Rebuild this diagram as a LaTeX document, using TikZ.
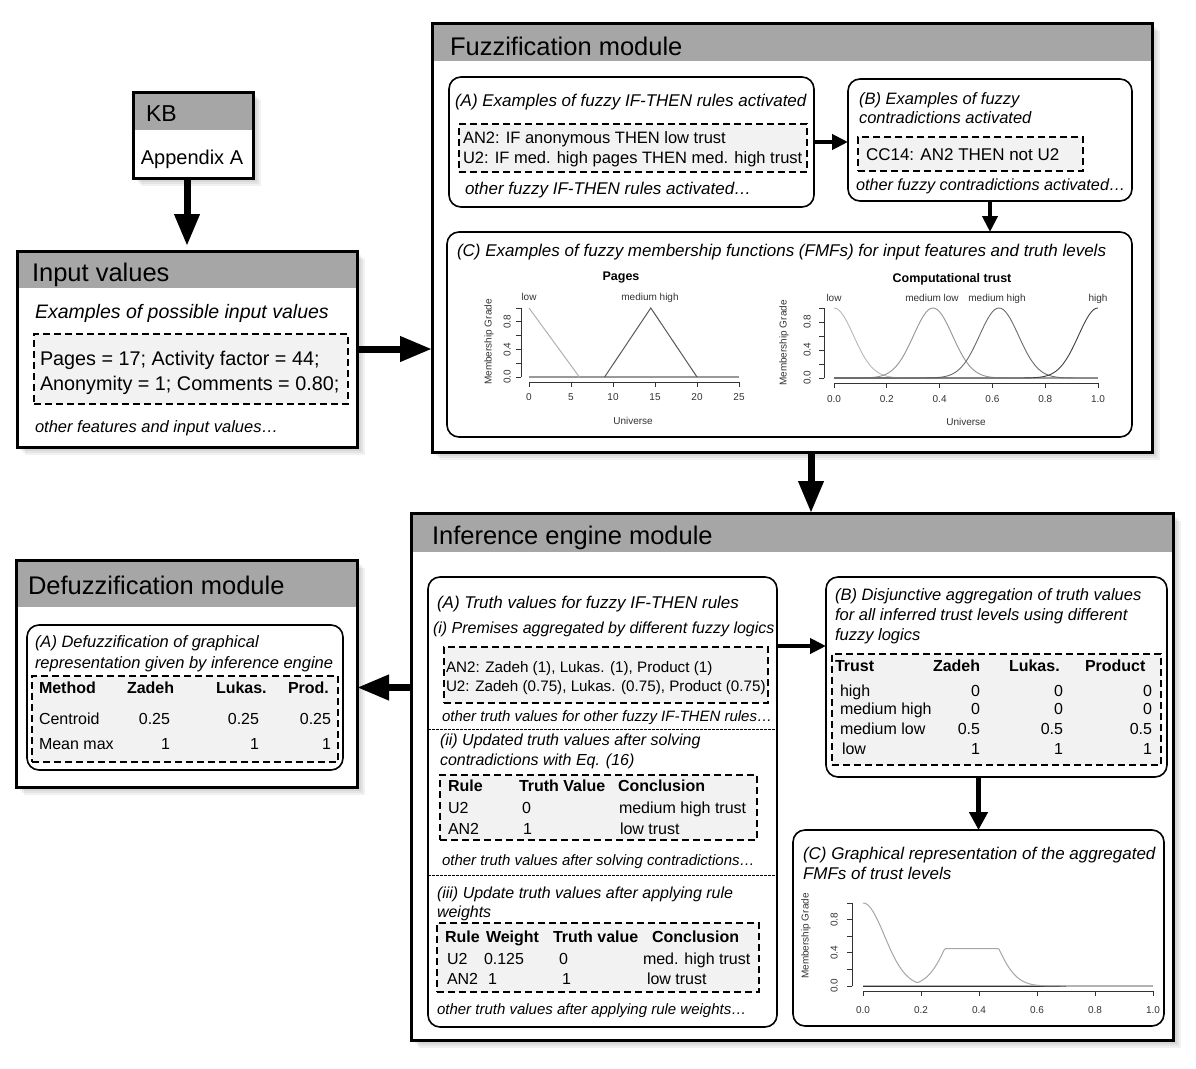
\documentclass[tikz,border=0pt]{standalone}
\usepackage{fontspec}
\setmainfont{Liberation Sans}
\usetikzlibrary{arrows.meta}
\newcommand\myfs[1]{\fontsize{#1}{#1}\selectfont}
\newcommand\dropshadow[4]{%
  \foreach \o in {2,4,6,8}{\fill[black,opacity=0.055] ({#1+\o},{#2+\o}) rectangle ({#3+\o},{#4+\o});}}
\newcommand\modulebox[6]{%
  \dropshadow{#2}{#3}{#2+#4}{#3+#5}
  \node[modbox, minimum width=#4pt, minimum height=#5pt] (#1) at (#2,#3) {};
  \fill[hdrgray] (#1.north west) rectangle ([yshift=-#6pt]#1.north east);
  \draw[line width=3pt] (#1.north west) rectangle (#1.south east);}
\definecolor{hdrgray}{gray}{0.65}
\definecolor{dashfill}{gray}{0.95}
\begin{document}
\begin{tikzpicture}[x=1pt,y=-1pt,
  modbox/.style={draw, line width=3pt, fill=white, inner sep=0pt, outer sep=0pt, anchor=north west},
  rbox/.style={draw, line width=1.6pt, rounded corners=12pt, fill=white, inner sep=0pt, outer sep=0pt, anchor=north west},
  dbox/.style={draw, line width=1.8pt, dash pattern=on 7pt off 4pt, fill=dashfill, inner sep=0pt, outer sep=0pt, anchor=north west},
  fs/.code={\pgfmathsetmacro\fsh{0.72*#1}\pgfkeysalso{font=\myfs{#1}, text height=\fsh pt}},
  fsi/.code={\pgfmathsetmacro\fsh{0.72*#1}\pgfkeysalso{font=\myfs{#1}\itshape, text height=\fsh pt}},
  fsb/.code={\pgfmathsetmacro\fsh{0.72*#1}\pgfkeysalso{font=\myfs{#1}\bfseries, text height=\fsh pt}},
  t/.style={inner sep=0pt, outer sep=0pt, text depth=0pt, anchor=west},
  tr/.style={t, anchor=east},
  tc/.style={t, anchor=center},
  ttl/.style={t, fs=25.5},
  sub/.style={t, fsi=17},
  subs/.style={t, fsi=16},
  oth/.style={t, fsi=15},
  body/.style={t, fs=16},
  bodyr/.style={tr, fs=16},
  bold/.style={t, fsb=16},
  bigarrow/.style={line width=7pt, -{Triangle[length=32pt,width=24pt]}},
  midarrow/.style={line width=5pt, -{Triangle[length=18pt,width=18pt]}},
  smarrow/.style={line width=4pt, -{Triangle[length=16pt,width=15pt]}},
  ax/.style={line width=0.7pt, black!80},
  ptk/.style={tc, fs=10, text=black!80},
  sep/.style={line width=0.8pt, dash pattern=on 2.5pt off 1.5pt},
]
\useasboundingbox (0,0) rectangle (1196,1068);

% ---------------- KB ----------------
\modulebox{kb}{133}{92}{120}{86}{38}
\node[t, fs=23] (kbt) at (146,113) {KB};
\node[tc, fs=20] (kba) at (192,157) {Appendix A};

% ---------------- Input values ----------------
\modulebox{input}{17}{251}{340}{196}{37}
\node[ttl] (inpt) at (32,272) {Input values};
\node[t, fsi=19.5] (inpe) at (35,311) {Examples of possible input values};
\node[dbox, minimum width=314pt, minimum height=70pt] (inpd) at (34,334) {};
\node[t, fs=19.8] (inp1) at (40,358) {Pages = 17; Activity factor = 44;};
\node[t, fs=19.8] (inp2) at (40,383) {Anonymity = 1; Comments = 0.80;};
\node[t, fsi=16.5] (inpo) at (35,427) {other features and input values…};

% ---------------- Fuzzification ----------------
\modulebox{fuzz}{432}{23}{720}{429}{38}
\node[ttl] (fzt) at (450,46) {Fuzzification module};
\node[rbox, minimum width=365pt, minimum height=130pt] (fzA) at (449,77) {};
\node[sub] (fzA1) at (455,100) {(A) Examples of fuzzy IF-THEN rules activated};
\node[dbox, minimum width=348pt, minimum height=48pt] (fzAd) at (459,124) {};
\node[t, fs=16.5] (fzA2) at (463,138) {AN2: IF anonymous THEN low trust};
\node[t, fs=16.5] (fzA3) at (463,158) {U2: IF med. high pages THEN med. high trust};
\node[sub] (fzA4) at (465,188) {other fuzzy IF-THEN rules activated…};
\node[rbox, minimum width=284pt, minimum height=122pt] (fzB) at (848,79) {};
\node[t, fsi=16.5] (fzB1) at (859,99) {(B) Examples of fuzzy};
\node[t, fsi=16.5] (fzB2) at (859,118) {contradictions activated};
\node[dbox, minimum width=225pt, minimum height=34pt] (fzBd) at (858,137) {};
\node[t, fs=17] (fzB3) at (866,154) {CC14: AN2 THEN not U2};
\node[t, fsi=16.2] (fzB4) at (856,185) {other fuzzy contradictions activated…};
\node[rbox, minimum width=685pt, minimum height=205pt] (fzC) at (447,232) {};
\node[sub] (fzC1) at (457,250) {(C) Examples of fuzzy membership functions (FMFs) for input features and truth levels};
\draw[smarrow] (fzA.east) -- (fzA.east -| fzB.west);
\draw[smarrow] (fzB.south) -- (fzB.south |- fzC.north);

% Pages plot
\node[tc, fsb=12.5] (pgT) at (621,276) {Pages};
\draw[ax] (521,377) -- (521,308);
\foreach \g in {0,0.2,0.4,0.6,0.8,1} \draw[ax] (521,{377-69*\g}) -- (516,{377-69*\g});
\foreach \g/\l [count=\i] in {0/0.0,0.4/0.4,0.8/0.8} \node[ptk, rotate=90] (pgy\i) at (507,{377-69*\g}) {\l};
\draw[ax] (529,382) -- (739,382);
\foreach \u [count=\i] in {0,5,10,15,20,25} {\draw[ax] ({529+8.4*\u},382) -- ({529+8.4*\u},387);
  \node[ptk] (pgx\i) at ({529+8.4*\u},397) {\u};}
\node[ptk] (pgU) at (633,421) {Universe};
\node[ptk, rotate=90] (pgM) at (488,342) {Membership Grade};
\node[ptk] (pgL1) at (529,297) {low};
\node[ptk] (pgL2) at (650,297) {medium high};
\begin{scope}[shift={(529,377)}, x=8.4pt, y=69pt]
  \draw[black!40, line width=1.4pt] (0,0) -- (25,0);
  \draw[black!30, line width=1pt] (0,1) -- (6,0);
  \draw[black!65, line width=1pt] (9,0) -- (14.5,1) -- (20,0);
\end{scope}

% Computational trust plot
\node[tc, fsb=12.5] (ctT) at (952,278) {Computational trust};
\draw[ax] (824,378) -- (824,308);
\foreach \g in {0,0.2,0.4,0.6,0.8,1} \draw[ax] (824,{378-70*\g}) -- (819,{378-70*\g});
\foreach \g/\l [count=\i] in {0/0.0,0.4/0.4,0.8/0.8} \node[ptk, rotate=90] (cty\i) at (807,{378-70*\g}) {\l};
\draw[ax] (834,383) -- (1098,383);
\foreach \u/\l [count=\i] in {0/0.0,0.2/0.2,0.4/0.4,0.6/0.6,0.8/0.8,1/1.0} {\draw[ax] ({834+264*\u},383) -- ({834+264*\u},388);
  \node[ptk] (ctx\i) at ({834+264*\u},399) {\l};}
\node[ptk] (ctU) at (966,422) {Universe};
\node[ptk, rotate=90] (ctM) at (783,343) {Membership Grade};
\node[ptk] (ctL1) at (834,298) {low};
\node[ptk] (ctL2) at (932,298) {medium low};
\node[ptk] (ctL3) at (997,298) {medium high};
\node[ptk] (ctL4) at (1098,298) {high};
\begin{scope}[shift={(834,378)}, x=264pt, y=70pt]
  \draw[black!40, line width=1.4pt] (0,0) -- (1,0);
  \draw[black!28, line width=0.9pt] plot[domain=0:1, samples=121] (\x,{exp(max(-9,0-\x*\x/0.0109))});
  \draw[black!42, line width=0.9pt] plot[domain=0:1, samples=121] (\x,{exp(max(-9,0-(\x-0.375)*(\x-0.375)/0.0109))});
  \draw[black!58, line width=0.9pt] plot[domain=0:1, samples=121] (\x,{exp(max(-9,0-(\x-0.625)*(\x-0.625)/0.0109))});
  \draw[black!75, line width=0.9pt] plot[domain=0:1, samples=121] (\x,{exp(max(-9,0-(\x-1)*(\x-1)/0.0109))});
\end{scope}

% ---------------- Inference engine ----------------
\modulebox{inf}{411}{513}{762}{527}{39}
\node[ttl] (inft) at (432,535) {Inference engine module};
\node[rbox, minimum width=349pt, minimum height=450pt] (inA) at (428,577) {};
\node[sub] (inA1) at (437,602) {(A) Truth values for fuzzy IF-THEN rules};
\node[subs] (inA2) at (433,628) {(i) Premises aggregated by different fuzzy logics};
\node[dbox, minimum width=324pt, minimum height=56pt] (inAd1) at (444,647) {};
\node[t, fs=15.2] (inA3) at (446,667) {AN2: Zadeh (1), Lukas. (1), Product (1)};
\node[t, fs=15.2] (inA4) at (446,686) {U2: Zadeh (0.75), Lukas. (0.75), Product (0.75)};
\node[oth] (inA5) at (442,716) {other truth values for other fuzzy IF-THEN rules…};
\draw[sep] (428,729) -- (777,729);
\node[subs] (inA6) at (440,740) {(ii) Updated truth values after solving};
\node[subs] (inA7) at (440,760) {contradictions with Eq. (16)};
\node[dbox, minimum width=317pt, minimum height=65pt] (inAd2) at (440,775) {};
\node[bold] (t2h1) at (448,786) {Rule};
\node[bold] (t2h2) at (519,786) {Truth Value};
\node[bold] (t2h3) at (618,786) {Conclusion};
\node[body] (t2a1) at (448,808) {U2};
\node[body] (t2a2) at (522,808) {0};
\node[body] (t2a3) at (619,808) {medium high trust};
\node[body] (t2b1) at (448,829) {AN2};
\node[body] (t2b2) at (523,829) {1};
\node[body] (t2b3) at (620,829) {low trust};
\node[oth] (inA8) at (442,860) {other truth values after solving contradictions…};
\draw[sep] (428,875) -- (777,875);
\node[subs] (inA9) at (437,893) {(iii) Update truth values after applying rule};
\node[subs] (inA10) at (437,912) {weights};
\node[dbox, minimum width=322pt, minimum height=69pt] (inAd3) at (437,923) {};
\node[bold] (t3h1) at (445,937) {Rule};
\node[bold] (t3h2) at (486,937) {Weight};
\node[bold] (t3h3) at (553,937) {Truth value};
\node[bold] (t3h4) at (652,937) {Conclusion};
\node[body] (t3a1) at (447,959) {U2};
\node[body] (t3a2) at (484,959) {0.125};
\node[body] (t3a3) at (559,959) {0};
\node[body] (t3a4) at (643,959) {med. high trust};
\node[body] (t3b1) at (447,979) {AN2};
\node[body] (t3b2) at (488,979) {1};
\node[body] (t3b3) at (562,979) {1};
\node[body] (t3b4) at (647,979) {low trust};
\node[oth] (inA11) at (437,1009) {other truth values after applying rule weights…};

\node[rbox, minimum width=341pt, minimum height=200pt] (inB) at (826,577) {};
\node[t, fsi=16.5] (inB1) at (835,595) {(B) Disjunctive aggregation of truth values};
\node[t, fsi=16.5] (inB2) at (835,615) {for all inferred trust levels using different};
\node[t, fsi=16.5] (inB3) at (835,635) {fuzzy logics};
\node[dbox, minimum width=329pt, minimum height=111pt] (inBd) at (832,654) {};
\node[bold] (tbh1) at (835,666) {Trust};
\node[bold] (tbh2) at (933,666) {Zadeh};
\node[bold] (tbh3) at (1009,666) {Lukas.};
\node[bold] (tbh4) at (1085,666) {Product};
\foreach \n/\yy/\xx/\v [count=\i] in {high/691/840/0, medium high/709/840/0, medium low/729/840/0.5, low/749/842/1}{
  \node[body] (tbr\i) at (\xx,\yy) {\n};
  \node[bodyr] (tbz\i) at (980,\yy) {\v};
  \node[bodyr] (tbl\i) at (1063,\yy) {\v};
  \node[bodyr] (tbp\i) at (1152,\yy) {\v};}

\node[rbox, minimum width=371pt, minimum height=196pt] (inC) at (793,830) {};
\node[sub] (inC1) at (803,853) {(C) Graphical representation of the aggregated};
\node[sub] (inC2) at (803,873) {FMFs of trust levels};
% aggregated plot
\draw[ax] (852,986) -- (852,903);
\foreach \g in {0,0.2,0.4,0.6,0.8,1} \draw[ax] (852,{986-83*\g}) -- (847,{986-83*\g});
\foreach \g/\l [count=\i] in {0/0.0,0.4/0.4,0.8/0.8} \node[ptk, rotate=90] (agy\i) at (834,{986-83*\g}) {\l};
\draw[ax] (863,991) -- (1153,991);
\foreach \u/\l [count=\i] in {0/0.0,0.2/0.2,0.4/0.4,0.6/0.6,0.8/0.8,1/1.0} {\draw[ax] ({863+290*\u},991) -- ({863+290*\u},996);
  \node[ptk] (agx\i) at ({863+290*\u},1010) {\l};}
\node[ptk, rotate=90] (agM) at (805,936) {Membership Grade};
\begin{scope}[shift={(863,986)}, x=290pt, y=83pt]
  \draw[black!30, line width=1.2pt] (0,0) -- (1,0);
  \draw[black!80, line width=1pt] (0,0) -- (0.7,0);
  \draw[black!35, line width=1pt] plot[domain=0:0.7, samples=141] (\x,{max(exp(max(-9,0-\x*\x/0.0109)),min(0.45,exp(max(-9,0-(\x-0.375)*(\x-0.375)/0.0109))))});
\end{scope}

\coordinate (abArrow) at ([yshift=31pt]inB.west);
\draw[smarrow] (abArrow -| inA.east) -- (abArrow);
\draw[midarrow] (inC.north |- inB.south) -- (inC.north);

% ---------------- Defuzzification ----------------
\modulebox{defuzz}{16}{560}{341}{227}{47}
\node[ttl] (dft) at (28,585) {Defuzzification module};
\node[rbox, minimum width=316pt, minimum height=145pt] (dfA) at (27,625) {};
\node[t, fsi=16.5] (dfA1) at (35,642) {(A) Defuzzification of graphical};
\node[t, fsi=16.5] (dfA2) at (35,663) {representation given by inference engine};
\node[dbox, minimum width=306pt, minimum height=86pt] (dfAd) at (32,676) {};
\node[bold] (dfh1) at (39,688) {Method};
\node[bold] (dfh2) at (127,688) {Zadeh};
\node[bold] (dfh3) at (216,688) {Lukas.};
\node[bold] (dfh4) at (288,688) {Prod.};
\node[body] (dfr1) at (39,719) {Centroid};
\node[bodyr] (dfr1a) at (170,719) {0.25};
\node[bodyr] (dfr1b) at (259,719) {0.25};
\node[bodyr] (dfr1c) at (331,719) {0.25};
\node[body] (dfr2) at (39,744) {Mean max};
\node[bodyr] (dfr2a) at (170,744) {1};
\node[bodyr] (dfr2b) at (259,744) {1};
\node[bodyr] (dfr2c) at (331,744) {1};

% ---------------- main arrows ----------------
\draw[bigarrow] (kb.south -| input.north) -- ([yshift=5pt]input.north);
\draw[bigarrow] (input.east) -- (input.east -| fuzz.west);
\coordinate (fiArrow) at ([xshift=19pt]fuzz.south);
\draw[bigarrow] (fiArrow) -- (fiArrow |- inf.north);
\coordinate (idArrow) at ([yshift=-14pt]defuzz.east);
\draw[bigarrow] (idArrow -| inf.west) -- (idArrow);
\end{tikzpicture}
\end{document}
